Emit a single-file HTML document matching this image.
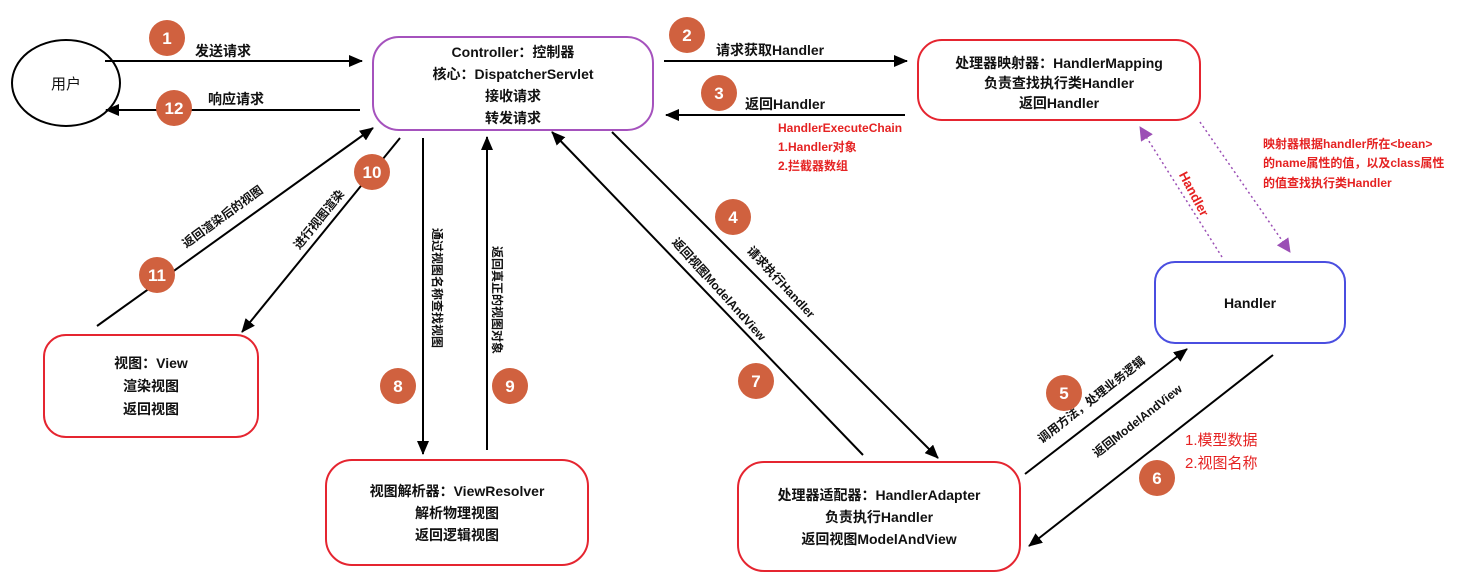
<!DOCTYPE html>
<html><head><meta charset="utf-8"><style>
body{margin:0;background:#fff}
svg text{font-family:"Liberation Sans","Noto Sans CJK SC",sans-serif}
.b{font-weight:bold;font-size:14px;fill:#111}
.n{font-size:15px;fill:#111}
.r{fill:#e52222;font-size:12px;font-weight:bold}
.c circle{fill:#d0613f}
.c text{fill:#fff;font-weight:bold;font-size:17px;text-anchor:middle}
.s{font-size:12px;font-weight:bold;fill:#111;text-anchor:middle}
</style></head><body>
<svg width="1467" height="582" viewBox="0 0 1467 582">
<defs>
<marker id="a2" markerWidth="14" markerHeight="12" refX="13" refY="6" orient="auto" markerUnits="userSpaceOnUse"><path d="M0,0 L14,6 L0,12 Z" fill="#000"/></marker>
<marker id="p" markerWidth="14" markerHeight="14" refX="13" refY="7" orient="auto" markerUnits="userSpaceOnUse"><path d="M0,0 L14,7 L0,14 Z" fill="#9b4fb5"/></marker>
</defs>
<g fill="none" stroke-width="2">
<ellipse cx="66" cy="83" rx="54" ry="43" stroke="#000"/>
<rect x="373" y="37" width="280" height="93" rx="26" stroke="#a552bd"/>
<rect x="918" y="40" width="282" height="80" rx="24" stroke="#e52530"/>
<rect x="1155" y="262" width="190" height="81" rx="20" stroke="#4a4ee0"/>
<rect x="44" y="335" width="214" height="102" rx="22" stroke="#e52530"/>
<rect x="326" y="460" width="262" height="105" rx="26" stroke="#e52530"/>
<rect x="738" y="462" width="282" height="109" rx="26" stroke="#e52530"/>
</g>
<text x="66" y="89" class="n" text-anchor="middle">用户</text>
<g class="b" text-anchor="middle">
<text x="513" y="57">Controller：控制器</text>
<text x="513" y="79">核心：DispatcherServlet</text>
<text x="513" y="101">接收请求</text>
<text x="513" y="123">转发请求</text>
<text x="1059" y="68">处理器映射器：HandlerMapping</text>
<text x="1059" y="88">负责查找执行类Handler</text>
<text x="1059" y="108">返回Handler</text>
<text x="1250" y="308">Handler</text>
<text x="151" y="368">视图：View</text>
<text x="151" y="391">渲染视图</text>
<text x="151" y="414">返回视图</text>
<text x="457" y="496">视图解析器：ViewResolver</text>
<text x="457" y="518">解析物理视图</text>
<text x="457" y="540">返回逻辑视图</text>
<text x="879" y="500">处理器适配器：HandlerAdapter</text>
<text x="879" y="522">负责执行Handler</text>
<text x="879" y="544">返回视图ModelAndView</text>
</g>
<g stroke="#000" stroke-width="2" fill="none">
<line x1="105" y1="61" x2="362" y2="61" marker-end="url(#a2)"/>
<line x1="360" y1="110" x2="106" y2="110" marker-end="url(#a2)"/>
<line x1="664" y1="61" x2="907" y2="61" marker-end="url(#a2)"/>
<line x1="905" y1="115" x2="666" y2="115" marker-end="url(#a2)"/>
<line x1="97" y1="326" x2="373" y2="128" marker-end="url(#a2)"/>
<line x1="400" y1="138" x2="242" y2="332" marker-end="url(#a2)"/>
<line x1="423" y1="138" x2="423" y2="454" marker-end="url(#a2)"/>
<line x1="487" y1="450" x2="487" y2="137" marker-end="url(#a2)"/>
<line x1="863" y1="455" x2="552" y2="132" marker-end="url(#a2)"/>
<line x1="612" y1="132" x2="938" y2="458" marker-end="url(#a2)"/>
<line x1="1025" y1="474" x2="1187" y2="349" marker-end="url(#a2)"/>
<line x1="1273" y1="355" x2="1029" y2="546" marker-end="url(#a2)"/>
</g>
<g stroke="#9b4fb5" stroke-width="1.5" stroke-dasharray="2,3" fill="none">
<line x1="1222" y1="257" x2="1140" y2="127" marker-end="url(#p)"/>
<line x1="1200" y1="122" x2="1290" y2="252" marker-end="url(#p)"/>
</g>
<g class="b">
<text x="195" y="56">发送请求</text>
<text x="208" y="104">响应请求</text>
<text x="716" y="55">请求获取Handler</text>
<text x="745" y="109">返回Handler</text>
</g>
<g class="r">
<text x="778" y="132">HandlerExecuteChain</text>
<text x="778" y="151">1.Handler对象</text>
<text x="778" y="170">2.拦截器数组</text>
<text x="1263" y="148">映射器根据handler所在&lt;bean&gt;</text>
<text x="1263" y="167">的name属性的值，以及class属性</text>
<text x="1263" y="187">的值查找执行类Handler</text>
<text x="1185" y="445" font-size="15" font-weight="normal">1.模型数据</text>
<text x="1185" y="468" font-size="15" font-weight="normal">2.视图名称</text>
<text transform="translate(1190,196) rotate(62)" text-anchor="middle" font-size="13">Handler</text>
</g>
<g class="s">
<text transform="translate(225,220) rotate(-36)">返回渲染后的视图</text>
<text transform="translate(322,222) rotate(-51)">进行视图渲染</text>
<text transform="translate(433,288) rotate(90)">通过视图名称查找视图</text>
<text transform="translate(493,300) rotate(90)">返回真正的视图对象</text>
<text transform="translate(716,292) rotate(48)">返回视图ModelAndView</text>
<text transform="translate(778,285) rotate(47)">请求执行Handler</text>
<text transform="translate(1094,403) rotate(-38)">调用方法，处理业务逻辑</text>
<text transform="translate(1140,424) rotate(-38)">返回ModelAndView</text>
</g>
<g class="c">
<circle cx="167" cy="38" r="18"/><text x="167" y="44">1</text>
<circle cx="174" cy="108" r="18"/><text x="174" y="114">12</text>
<circle cx="687" cy="35" r="18"/><text x="687" y="41">2</text>
<circle cx="719" cy="93" r="18"/><text x="719" y="99">3</text>
<circle cx="733" cy="217" r="18"/><text x="733" y="223">4</text>
<circle cx="1064" cy="393" r="18"/><text x="1064" y="399">5</text>
<circle cx="1157" cy="478" r="18"/><text x="1157" y="484">6</text>
<circle cx="756" cy="381" r="18"/><text x="756" y="387">7</text>
<circle cx="398" cy="386" r="18"/><text x="398" y="392">8</text>
<circle cx="510" cy="386" r="18"/><text x="510" y="392">9</text>
<circle cx="372" cy="172" r="18"/><text x="372" y="178">10</text>
<circle cx="157" cy="275" r="18"/><text x="157" y="281">11</text>
</g>
</svg>
</body></html>
